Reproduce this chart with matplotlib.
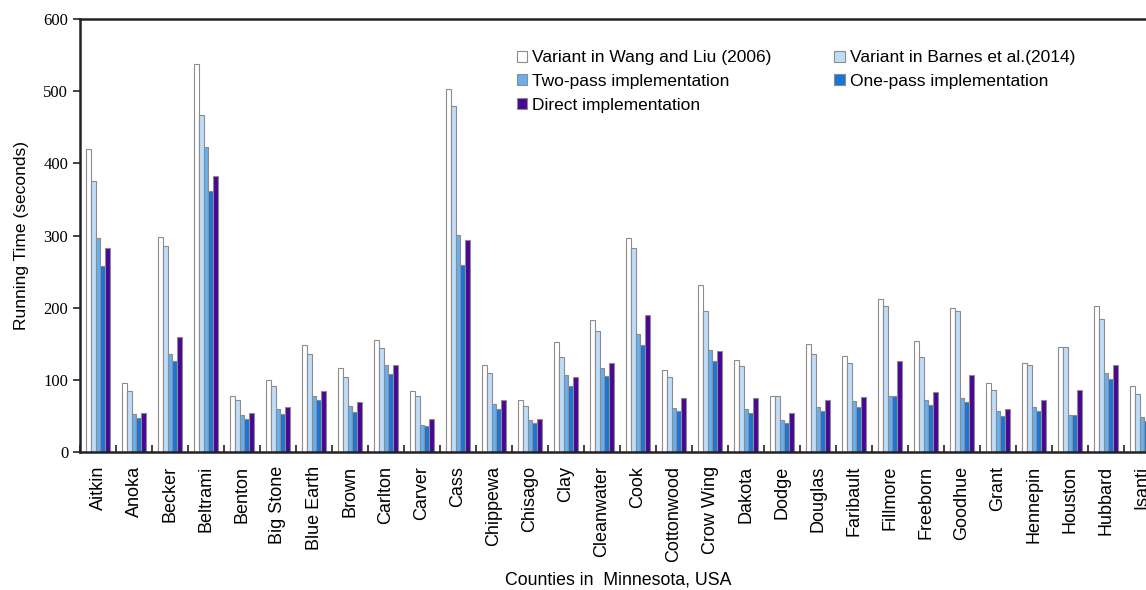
import matplotlib
matplotlib.use("Agg")
import matplotlib.pyplot as plt
import numpy as np

counties = ["Aitkin", "Anoka", "Becker", "Beltrami", "Benton", "Big Stone",
            "Blue Earth", "Brown", "Carlton", "Carver", "Cass", "Chippewa",
            "Chisago", "Clay", "Cleanwater", "Cook", "Cottonwood", "Crow Wing",
            "Dakota", "Dodge", "Douglas", "Faribault", "Fillmore", "Freeborn",
            "Goodhue", "Grant", "Hennepin", "Houston", "Hubbard", "Isanti"]

wang_liu = [420, 95, 298, 537, 78, 100, 148, 116, 155, 85, 503, 120, 72, 152,
            183, 297, 113, 232, 127, 78, 149, 133, 212, 154, 199, 96, 124, 146,
            203, 92]
barnes = [375, 84, 285, 467, 72, 91, 136, 104, 144, 78, 480, 110, 64, 131,
          168, 282, 104, 196, 119, 77, 136, 124, 203, 132, 196, 86, 120, 145,
          184, 81]
two_pass = [296, 52, 136, 423, 51, 60, 78, 64, 120, 37, 301, 66, 45, 107,
            117, 163, 61, 142, 60, 44, 63, 71, 78, 72, 75, 57, 63, 51, 110, 48]
one_pass = [258, 47, 126, 361, 46, 52, 72, 55, 108, 36, 259, 60, 40, 92,
            106, 148, 57, 126, 54, 40, 57, 63, 78, 65, 69, 50, 57, 51, 101, 43]
direct = [282, 54, 160, 383, 54, 63, 85, 69, 120, 46, 294, 72, 46, 104,
          124, 190, 75, 140, 75, 54, 72, 76, 126, 83, 107, 60, 72, 86, 120, 52]

series = [
    ("Variant in Wang and Liu (2006)", wang_liu, "#ffffff"),
    ("Variant in Barnes et al.(2014)", barnes, "#bfdcf8"),
    ("Two-pass implementation", two_pass, "#66b0f2"),
    ("One-pass implementation", one_pass, "#1a74da"),
    ("Direct implementation", direct, "#4a0694"),
]

W, H = 1146, 590
fig = plt.figure(figsize=(W / 100, H / 100), dpi=100)
# the plotting area runs past the right edge of the figure
left, right, top, bottom = 80, 1160, 19, 452
ax = fig.add_axes([left / W, 1 - bottom / H, (right - left) / W, (bottom - top) / H])

x = np.arange(len(counties))
bw = 0.13
bars = []
for k, (name, vals, col) in enumerate(series):
    bars.append(ax.bar(x + (k - 2) * bw, vals, bw, color=col, edgecolor="#8c8c8c",
                       linewidth=0.8, label=name))

ax.set_xlim(-0.5, len(counties) - 0.5)
ax.set_ylim(0, 600)
ax.set_yticks(range(0, 601, 100))

# category labels at centres, tick marks at group boundaries
ax.set_xticks(x)
ax.set_xticklabels(counties, rotation=90, fontsize=13, family="Liberation Sans")
ax.tick_params(axis="x", length=0, pad=10)
ax.set_xticks(np.arange(-0.5, len(counties), 1), minor=True)
ax.tick_params(axis="x", which="minor", direction="in", length=5, width=1.2,
               color="#222222")
ax.tick_params(axis="y", direction="out", length=5, width=1.2, labelsize=12,
               color="#222222")
for lab in ax.get_yticklabels():
    lab.set_family("Liberation Serif")

for s in ("left", "bottom", "top"):
    ax.spines[s].set_linewidth(1.8)
    ax.spines[s].set_color("#222222")
ax.spines["right"].set_visible(False)

ax.set_ylabel("Running Time (seconds)", fontsize=12.5, family="Liberation Sans",
              labelpad=10)
fig.text(618 / W, 1 - 580 / H, "Counties in  Minnesota, USA", ha="center",
         va="center", fontsize=12.8, family="Liberation Sans")

# legend filled row by row: two entries per row
order = [0, 2, 4, 1, 3]
leg = ax.legend([bars[i] for i in order], [series[i][0] for i in order],
                ncol=2, loc="upper left",
                bbox_to_anchor=(428 / (right - left), 0.948),
                frameon=False, prop={"family": "Liberation Sans", "size": 12.5},
                handlelength=0.6, handleheight=0.6, handletextpad=0.3,
                columnspacing=3.6, labelspacing=0.5, borderpad=0)

fig.savefig("out.png", dpi=100)
